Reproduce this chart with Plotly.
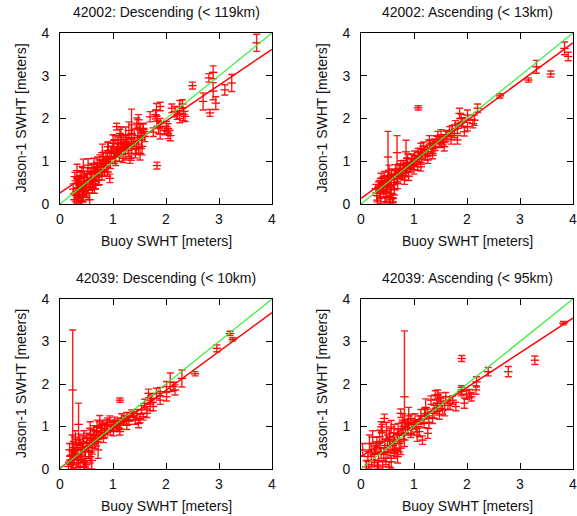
import plotly.graph_objects as go

W, H = 577, 516

titles = ["42002: Descending (< 119km)", "42002: Ascending (< 13km)",
          "42039: Descending (< 10km)", "42039: Ascending (< 95km)"]
x_title = "Buoy SWHT [meters]"
y_title = "Jason-1 SWHT [meters]"
tick_vals = [0, 1, 2, 3, 4]
tick_text = ["0", "1", "2", "3", "4"]

# regression fits (intercept, slope)
fit_b = [0.26, 0.13, 0.02, 0.29]
fit_m = [0.84, 0.91, 0.915, 0.815]

# ---- panel 1: 42002 descending  (x, y, err) ----
p1 = [(3.71,3.77,0.2),(2.89,3.08,0.15),(2.81,2.95,0.1),(2.89,2.64,0.2),(2.94,2.36,0.15),(2.83,2.13,0.08),
      (2.70,2.40,0.2),(2.50,2.77,0.08),(3.11,2.67,0.12),(3.24,2.83,0.2),
      (2.11,2.24,0.1),(2.17,2.16,0.12),(2.26,2.27,0.15),(2.31,2.34,0.1),(2.33,2.10,0.15),(2.26,2.0,0.1),
      (2.36,2.05,0.12),(2.21,2.08,0.1),(1.89,2.28,0.1),(1.80,2.09,0.1),(1.83,1.94,0.12),(1.86,1.79,0.15),
      (1.89,1.64,0.12),(2.04,1.76,0.12),(2.08,1.6,0.12),(1.98,1.72,0.1),(1.76,1.68,0.1),(1.57,1.74,0.15),
      (1.54,1.66,0.1),(1.83,0.9,0.08),(1.35,1.62,0.6),
      (1.07,1.81,0.08),(1.13,1.65,0.1),(1.10,1.42,0.15),(1.26,1.5,0.12),(1.29,1.26,0.15),(1.19,1.34,0.1),
      (1.35,1.65,0.2),(1.45,1.89,0.12),(1.51,1.73,0.15),(1.54,1.5,0.2),(1.48,1.34,0.15),(1.60,1.58,0.12),
      (1.57,1.77,0.1),(1.32,1.07,0.12),(1.19,1.07,0.1),(1.01,1.18,0.12),(0.91,1.34,0.1),(0.94,1.11,0.15),
      (0.85,0.99,0.1),(0.88,0.87,0.12),(0.94,0.6,0.1),(0.79,0.79,0.15),(0.75,1.03,0.12),(0.69,0.87,0.1),
      (0.66,0.68,0.15),(0.72,0.56,0.12),(0.63,0.48,0.1),(0.53,0.91,0.15),(0.57,0.72,0.12),(0.50,0.56,0.15),
      (0.47,0.40,0.12),(0.53,0.25,0.15),(0.44,0.17,0.12),(0.38,0.09,0.1),(0.35,0.29,0.15),(0.31,0.48,0.12),
      (0.28,0.64,0.1),(0.38,0.6,0.15),(0.41,0.76,0.12),(0.35,0.17,0.15),(0.31,0.05,0.1),(0.41,0.05,0.12),
      (0.44,0.48,0.15),(0.6,0.6,0.12),(0.69,0.64,0.1),(0.79,0.68,0.12),(0.82,1.11,0.1),(1.01,1.34,0.15),
      (1.04,1.5,0.1),(1.16,1.5,0.12),(1.23,1.18,0.15),(1.38,1.42,0.12),(1.42,1.18,0.1),(1.51,1.18,0.15),
      (1.70,2.04,0.12),(1.82,2.2,0.15),(1.89,1.9,0.1),(2.01,1.81,0.12),(2.04,1.65,0.12),(1.48,1.97,0.12),
      (1.10,1.22,0.1),(0.82,0.87,0.12),(0.3,0.2,0.1),(0.25,0.35,0.12),(0.45,0.3,0.1),(0.55,0.45,0.12),
      (0.65,0.35,0.1),(0.6,0.85,0.1),(0.7,0.75,0.12),(0.9,0.75,0.1),(0.95,0.95,0.12),(1.05,1.0,0.1),
      (1.15,1.3,0.12),(1.25,1.35,0.1),
      (0.27,0.1,0.15),(0.33,0.38,0.2),(0.36,0.52,0.15),(0.4,0.42,0.2),(0.42,0.22,0.15),(0.46,0.62,0.15),
      (0.5,0.35,0.2),(0.52,0.7,0.15),(0.58,0.52,0.2),(0.61,0.4,0.15),(0.64,0.92,0.15),(0.67,0.55,0.2),
      (0.71,0.95,0.15),(0.74,0.65,0.2),(0.77,0.88,0.15),(0.8,1.2,0.2),(0.84,0.8,0.15),(0.87,1.05,0.15),
      (0.9,1.25,0.2),(0.97,1.2,0.15),(1.0,1.42,0.2),(1.03,1.1,0.15),(1.08,1.3,0.2),(1.12,1.15,0.15),
      (1.15,1.6,0.2),(1.2,1.45,0.15),(1.24,1.6,0.2),(1.28,1.4,0.15),(1.3,1.72,0.2),(1.4,1.55,0.2),
      (1.44,1.3,0.15),(1.47,1.6,0.2),(1.55,1.35,0.2),(0.32,0.78,0.15),(0.37,0.3,0.15),(0.44,0.85,0.2),
      (0.56,0.1,0.15)]

# ---- panel 2: 42002 ascending ----
p2 = [(3.84,3.64,0.15),(3.91,3.45,0.1),(3.31,3.21,0.15),(3.58,3.04,0.07),(3.16,2.9,0.05),(2.62,2.53,0.05),
      (1.08,2.25,0.05),(0.51,1.1,0.6),(0.68,1.2,0.4),(0.85,1.22,0.27),
      (1.86,2.12,0.12),(1.89,2.0,0.1),(2.14,1.96,0.12),(2.2,2.24,0.1),(2.01,1.81,0.1),(1.95,1.69,0.1),
      (1.82,1.77,0.12),(1.76,1.65,0.1),(1.70,1.5,0.1),(1.60,1.58,0.12),(1.51,1.42,0.1),(1.45,1.58,0.12),
      (1.38,1.42,0.1),(1.32,1.3,0.12),(1.26,1.22,0.1),(1.26,1.03,0.08),(1.16,1.18,0.1),(1.10,1.11,0.12),
      (1.07,0.87,0.08),(1.01,1.03,0.1),(0.94,0.95,0.12),(0.88,0.87,0.1),(0.85,0.75,0.12),(0.75,0.72,0.1),
      (0.69,0.64,0.12),(0.63,0.68,0.1),(0.57,0.56,0.12),(0.50,0.48,0.15),(0.47,0.4,0.12),(0.41,0.33,0.1),
      (0.35,0.25,0.12),(0.31,0.09,0.1),(0.57,0.25,0.15),(0.6,0.13,0.1),(0.47,0.17,0.12),(0.28,0.36,0.1),
      (0.38,0.6,0.12),(0.63,0.33,0.12),(0.75,0.91,0.1),(1.01,1.14,0.1),(1.13,1.3,0.12),(1.29,1.5,0.1),
      (1.35,1.14,0.08),(1.57,1.34,0.1),(1.67,1.69,0.12),(1.92,1.92,0.1),(1.82,1.5,0.1),(0.82,0.56,0.1),
      (0.69,0.48,0.12),(0.88,1.07,0.1),(0.53,0.79,0.12),(0.44,0.64,0.12),(1.13,0.87,0.1),(1.51,1.62,0.12),
      (2.01,2.08,0.12),(2.11,1.88,0.1),(0.55,0.4,0.2),(0.6,0.05,0.1),(0.35,0.45,0.1),(0.9,0.65,0.1),
      (1.0,0.8,0.1),(0.72,0.82,0.12),(1.2,1.25,0.1),(1.4,1.35,0.1),
      (0.3,0.2,0.15),(0.33,0.4,0.12),(0.37,0.15,0.15),(0.4,0.5,0.12),(0.43,0.3,0.15),(0.46,0.55,0.12),
      (0.49,0.25,0.2),(0.52,0.62,0.12),(0.55,0.15,0.2),(0.58,0.7,0.12),(0.62,0.5,0.15),(0.65,0.8,0.12),
      (0.68,0.6,0.12),(0.71,0.7,0.1),(0.74,0.8,0.12),(0.78,0.68,0.1),(0.8,0.9,0.12),(0.83,0.82,0.1),
      (0.86,0.95,0.12),(0.92,0.85,0.1),(0.96,1.05,0.12),(0.98,0.9,0.1),(1.04,1.0,0.12),(1.08,1.2,0.1),
      (1.14,1.05,0.12),(1.18,1.35,0.1),(1.22,1.15,0.12),(1.3,1.38,0.1),(1.36,1.3,0.12),(1.42,1.5,0.1),
      (1.48,1.45,0.12),(1.55,1.5,0.12),(1.62,1.62,0.1),(1.72,1.72,0.12),(1.78,1.85,0.1),(0.54,0.0,0.15),
      (0.45,0.05,0.12)]

# ---- panel 3: 42039 descending ----
p3 = [(3.21,3.19,0.05),(3.26,3.05,0.04),(2.96,2.84,0.08),(2.55,2.24,0.05),(2.30,2.13,0.2),(2.08,2.04,0.22),
      (2.14,1.94,0.1),(1.13,1.62,0.05),(0.35,1.05,0.5),
      (1.67,1.78,0.1),(1.73,1.66,0.1),(1.60,1.54,0.1),(1.54,1.39,0.1),(1.70,1.47,0.1),(1.82,1.78,0.12),
      (1.89,1.82,0.1),(2.01,1.94,0.12),(1.51,1.19,0.1),(1.48,1.07,0.1),(1.35,1.31,0.08),(1.26,1.23,0.1),
      (1.19,1.11,0.08),(1.13,1.03,0.1),(1.07,0.99,0.08),(0.94,1.15,0.1),(0.88,1.03,0.12),(0.75,1.11,0.15),
      (0.79,0.96,0.1),(0.69,0.88,0.1),(0.63,0.8,0.12),(0.6,0.68,0.1),(0.57,0.96,0.15),(0.5,0.72,0.12),
      (0.44,0.64,0.15),(0.38,0.56,0.12),(0.31,0.6,0.1),(0.28,0.45,0.15),(0.22,0.33,0.12),(0.19,0.21,0.1),
      (0.25,0.14,0.12),(0.35,0.21,0.15),(0.41,0.33,0.12),(0.47,0.41,0.12),(0.53,0.52,0.1),(0.57,0.29,0.15),
      (0.44,0.14,0.1),(0.66,0.6,0.12),(0.72,0.45,0.2),(0.82,0.72,0.1),(1.01,0.88,0.1),(1.13,0.88,0.08),
      (1.26,1.03,0.1),(1.42,1.15,0.1),(1.57,1.23,0.08),(1.64,1.31,0.1),(1.76,1.47,0.1),(1.89,1.62,0.1),
      (2.01,1.70,0.1),(2.17,1.86,0.12),(0.69,0.64,0.1),(0.16,0.06,0.1),(0.38,0.06,0.1),(0.5,0.1,0.1),
      (0.3,0.35,0.12),(0.25,0.5,0.15),(0.85,0.85,0.1),(0.95,0.9,0.1),(1.05,1.05,0.1),(1.3,1.15,0.1),
      (0.18,0.45,0.15),(0.21,0.1,0.12),(0.23,0.6,0.2),(0.27,0.25,0.15),(0.29,0.75,0.15),(0.32,0.15,0.12),
      (0.34,0.45,0.15),(0.36,0.7,0.12),(0.39,0.3,0.15),(0.42,0.5,0.12),(0.45,0.75,0.15),(0.48,0.25,0.2),
      (0.51,0.62,0.12),(0.54,0.4,0.15),(0.58,0.8,0.12),(0.61,0.5,0.15),(0.64,0.9,0.12),(0.67,0.72,0.1),
      (0.7,1.0,0.15),(0.73,0.8,0.1),(0.77,0.9,0.12),(0.8,1.05,0.1),(0.84,0.95,0.12),(0.9,1.1,0.1),
      (0.98,1.0,0.1),(1.03,1.12,0.1),(1.1,1.08,0.1),(1.16,1.2,0.1),(1.22,1.16,0.1),(1.32,1.22,0.1),
      (1.38,1.25,0.1),(1.45,1.3,0.1),(1.7,1.62,0.1),(0.46,0.05,0.12),(0.6,0.2,0.2)]

# ---- panel 4: 42039 ascending ----
p4 = [(3.82,3.43,0.04),(3.28,2.56,0.1),(2.78,2.29,0.12),(2.40,2.29,0.1),(1.90,2.6,0.07),(2.18,2.05,0.12),
      (1.90,1.86,0.1),(1.40,1.74,0.1),(1.49,1.69,0.1),(1.99,1.74,0.1),(2.05,1.77,0.1),
      (1.32,1.62,0.1),(1.45,1.74,0.12),(1.51,1.54,0.12),(1.60,1.70,0.1),(1.42,1.43,0.12),(1.54,1.39,0.1),
      (1.79,1.47,0.1),(1.26,1.31,0.1),(1.35,1.19,0.12),(1.19,1.07,0.1),(1.26,0.84,0.12),(1.10,1.15,0.1),
      (1.04,0.99,0.12),(0.94,1.19,0.1),(0.88,0.92,0.12),(0.79,1.15,0.15),(0.75,1.31,0.1),(0.82,0.68,0.15),
      (0.69,0.8,0.12),(0.63,0.6,0.15),(0.57,0.99,0.15),(0.50,0.68,0.12),(0.44,1.19,0.1),(0.38,0.99,0.12),
      (0.35,0.76,0.15),(0.28,0.52,0.12),(0.19,0.45,0.15),(0.13,0.29,0.12),(0.03,0.45,0.15),(0.25,0.21,0.15),
      (0.38,0.37,0.12),(0.47,0.25,0.15),(0.57,0.17,0.15),(0.63,0.37,0.12),(0.69,0.29,0.15),(0.31,0.09,0.1),
      (0.41,0.05,0.12),(0.53,0.05,0.12),(0.94,0.84,0.1),(1.10,0.88,0.12),(0.88,1.07,0.1),(1.48,1.27,0.1),
      (1.64,1.5,0.1),(1.73,1.62,0.1),(1.89,1.82,0.1),(2.08,1.70,0.1),(2.17,1.86,0.1),(1.16,0.68,0.1),
      (0.75,0.49,0.15),(0.45,0.55,0.15),(0.55,0.45,0.2),(1.0,1.05,0.1),(1.2,1.3,0.12),(0.7,0.95,0.12),
      (0.15,0.1,0.1),
      (0.1,0.05,0.15),(0.16,0.6,0.2),(0.2,0.2,0.15),(0.22,0.75,0.15),(0.26,0.35,0.2),(0.3,0.6,0.15),
      (0.33,0.2,0.2),(0.36,0.5,0.15),(0.4,0.85,0.2),(0.43,0.35,0.15),(0.48,0.9,0.2),(0.51,0.4,0.15),
      (0.54,0.75,0.2),(0.6,0.55,0.15),(0.62,0.85,0.2),(0.66,0.45,0.15),(0.72,0.6,0.2),(0.77,0.95,0.15),
      (0.8,0.85,0.15),(0.84,1.0,0.15),(0.9,1.25,0.2),(0.96,0.95,0.15),(1.02,1.15,0.15),(1.06,0.8,0.15),
      (1.13,1.25,0.15),(1.22,1.45,0.2),(1.28,1.1,0.15),(1.38,1.35,0.15),(1.44,1.55,0.2),(1.58,1.4,0.15),
      (1.68,1.55,0.15),(1.95,1.55,0.12)]

# long, asymmetric error bars: (x, y, err_up, err_down) per panel
long_bars = [[], [], [(0.24, 1.86, 1.41, 1.9)], [(0.82, 1.70, 1.55, 0.6)]]

panels = [p1, p2, p3, p4]

# panel plot areas in window pixels (left, right, top, bottom)
boxes = [(60, 272, 33, 204), (361, 573, 33, 204), (60, 272, 299, 469), (361, 573, 299, 469)]

FONT = "Liberation Sans, Arial, Helvetica, sans-serif"
FS = 14
RED = "#ff0000"
GREEN = "#33ee33"
TXT = "#111111"

def px(x):
    return x / W

def py(y):
    return 1 - y / H

fig = go.Figure()
layout = dict(width=W, height=H, margin=dict(l=0, r=0, t=0, b=0),
              paper_bgcolor="white", plot_bgcolor="white", showlegend=False,
              font=dict(family=FONT, size=FS, color=TXT))
annotations = []

for i, (pts, box) in enumerate(zip(panels, boxes)):
    k = "" if i == 0 else str(i + 1)
    xa, ya = "x" + k, "y" + k
    L, R, T, B = box
    axcommon = dict(range=[0, 4], tickvals=tick_vals, ticktext=tick_text, ticks="inside",
                    ticklen=6, tickwidth=1, tickcolor="black", mirror="ticks",
                    showline=True, linecolor="black", linewidth=1, showgrid=False,
                    zeroline=False, automargin=False, ticklabeloverflow="allow",
                    tickfont=dict(size=FS, family=FONT, color=TXT))
    layout["xaxis" + k] = dict(axcommon, domain=[px(L), px(R)], anchor=ya, ticklabelstandoff=2)
    layout["yaxis" + k] = dict(axcommon, domain=[py(B), py(T)], anchor=xa, ticklabelstandoff=7)

    xs = [p[0] for p in pts]
    ys = [p[1] for p in pts]
    es = [p[2] for p in pts]
    fig.add_trace(go.Scatter(x=xs, y=ys, mode="markers", xaxis=xa, yaxis=ya,
                             marker=dict(symbol="line-ew", size=6, line=dict(color=RED, width=1.3)),
                             error_y=dict(type="data", array=es, color="rgba(255,0,0,0.9)",
                                          thickness=1.4, width=3.5)))
    if long_bars[i]:
        lb = long_bars[i]
        fig.add_trace(go.Scatter(x=[b[0] for b in lb], y=[b[1] for b in lb], mode="markers",
                                 xaxis=xa, yaxis=ya,
                                 marker=dict(symbol="line-ew", size=6, line=dict(color=RED, width=1.3)),
                                 error_y=dict(type="data", symmetric=False,
                                              array=[b[2] for b in lb], arrayminus=[b[3] for b in lb],
                                              color="rgba(255,0,0,0.9)", thickness=1.4, width=3.5)))
    fx = [0, 4]
    fig.add_trace(go.Scatter(x=fx, y=[fit_b[i] + fit_m[i] * v for v in fx], mode="lines",
                             xaxis=xa, yaxis=ya, line=dict(color=RED, width=1.5)))
    fig.add_trace(go.Scatter(x=fx, y=fx, mode="lines", xaxis=xa, yaxis=ya,
                             line=dict(color=GREEN, width=1.2)))

    cx = (L + R) / 2
    cy = (T + B) / 2
    annotations.append(dict(text=titles[i], x=px(cx), y=py(T - 21), xref="paper", yref="paper",
                            showarrow=False, xanchor="center", yanchor="middle",
                            font=dict(size=FS, family=FONT, color=TXT)))
    annotations.append(dict(text=x_title, x=px(cx), y=py(B + 37), xref="paper", yref="paper",
                            showarrow=False, xanchor="center", yanchor="middle",
                            font=dict(size=FS, family=FONT, color=TXT)))
    annotations.append(dict(text=y_title, x=px(L - 39), y=py(cy), xref="paper", yref="paper",
                            showarrow=False, xanchor="center", yanchor="middle", textangle=-90,
                            font=dict(size=FS, family=FONT, color=TXT)))

layout["annotations"] = annotations
fig.update_layout(**layout)
# remove the browser's default 8px body margin so the figure fills the window exactly
fig.write_html("out.html", config={"displayModeBar": False},
               post_script="document.body.style.margin='0px';")
